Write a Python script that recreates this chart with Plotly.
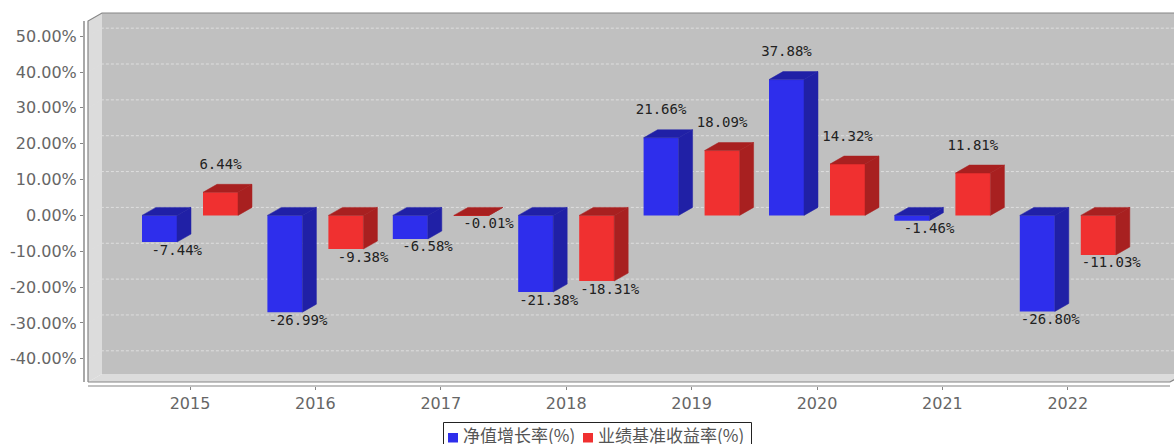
import plotly.graph_objects as go

years = ["2015", "2016", "2017", "2018", "2019", "2020", "2021", "2022"]
nav_growth = [-7.44, -26.99, -6.58, -21.38, 21.66, 37.88, -1.46, -26.80]
benchmark = [6.44, -9.38, -0.01, -18.31, 18.09, 14.32, 11.81, -11.03]
series_names = ["净值增长率(%)", "业绩基准收益率(%)"]
y_ticks = [50, 40, 30, 20, 10, 0, -10, -20, -30, -40]
y_tick_text = ["50.00%", "40.00%", "30.00%", "20.00%", "10.00%", "0.00%",
               "-10.00%", "-20.00%", "-30.00%", "-40.00%"]

W, H = 1174, 444
L, T, B = 84, 13, 386
PX_PER_CAT = 125.4
PX_PER_PCT = 3.585
X0_PX, Y0_PX = 190.0, 215.4
DX, DY = 14, 8
BAR_W, BAR_OFF = 35, 48

BLUE, BLUE_D = "#2e2eec", "#2020a6"
RED, RED_D = "#f03030", "#a82020"
WALL, SIDE, EDGE, GRID = "#c0c0c0", "#dcdcdc", "#858585", "#dedede"
TXT = "#666666"


def px(p):
    return (p - L) / (W - L)


def py(p):
    return 1 - (p - T) / (B - T)


def polygon(pts):
    return "M" + " L".join(f"{px(a):.5f},{py(b):.5f}" for a, b in pts) + " Z"


dxu, dyu = DX / PX_PER_CAT, DY / PX_PER_PCT
wu, offu = BAR_W / PX_PER_CAT, BAR_OFF / PX_PER_CAT
idx = list(range(len(years)))

fig = go.Figure()


def faces(values, start):
    """Side and top faces of each bar, in data units, from its value."""
    sx, sy, tx, ty = [], [], [], []
    for i, v in zip(idx, values):
        a, b = i + start, i + start + wu
        lo, hi = min(v, 0), max(v, 0)
        sx += [b, b + dxu, b + dxu, b, b, None]
        sy += [lo, lo + dyu, hi + dyu, hi, lo, None]
        tx += [a, a + dxu, b + dxu, b, a, None]
        ty += [hi, hi + dyu, hi + dyu, hi, hi, None]
    return sx, sy, tx, ty


for name, values, start, front, dark in [
    (series_names[0], nav_growth, -offu, BLUE, BLUE_D),
    (series_names[1], benchmark, offu - wu, RED, RED_D),
]:
    fig.add_bar(x=idx, y=values, base=0, width=wu, offset=start, name=name,
                marker=dict(color=front, line=dict(width=0)), showlegend=False)
    sx, sy, tx, ty = faces(values, start)
    for fx, fy in ((sx, sy), (tx, ty)):
        fig.add_scatter(x=fx, y=fy, mode="lines", fill="toself", fillcolor=dark,
                        line=dict(color=dark, width=0.5), showlegend=False,
                        hoverinfo="skip")
    centers = [i + start + wu / 2 for i in idx]
    lab_x, lab_y, lab_t, lab_p = [], [], [], []
    for c, v in zip(centers, values):
        lab_t.append(f"{v:.2f}%")
        if v >= 0:
            lab_x.append(c)
            lab_y.append(v + 27 / PX_PER_PCT)
            lab_p.append("middle center")
        else:
            lab_x.append(c + 42.5 / PX_PER_CAT)
            lab_y.append(v - 9 / PX_PER_PCT)
            lab_p.append("middle left")
    fig.add_scatter(x=lab_x, y=lab_y, text=lab_t, mode="text", textposition=lab_p,
                    textfont=dict(family="DejaVu Sans Mono", size=14, color="#222222"),
                    showlegend=False, hoverinfo="skip")

shapes = []
# back wall, left wall, floor
shapes.append(dict(type="path", path=polygon([(88 + DX, 13), (1184, 13), (1184, 374), (88 + DX, 374)]),
                   xref="paper", yref="paper", fillcolor=WALL, line=dict(width=0), layer="below"))
shapes.append(dict(type="path", path=polygon([(88, 21), (88 + DX, 13), (88 + DX, 374), (88, 382)]),
                   xref="paper", yref="paper", fillcolor=SIDE, line=dict(width=0), layer="below"))
shapes.append(dict(type="path", path=polygon([(88, 382), (88 + DX, 374), (1184, 374), (1170, 382)]),
                   xref="paper", yref="paper", fillcolor=SIDE, line=dict(width=0), layer="below"))
# gridlines running along the left wall and the back wall
for v in y_ticks:
    shapes.append(dict(type="path", xref="paper", yref="y", layer="below",
                       path=f"M{px(88):.5f},{v} L{px(88 + DX):.5f},{v + dyu:.4f} L{px(1184):.5f},{v + dyu:.4f}",
                       line=dict(color=GRID, width=1, dash="3px,2px")))
# wall outline
shapes.append(dict(type="path", xref="paper", yref="paper", layer="below",
                   path="M" + " L".join(f"{px(a):.5f},{py(b):.5f}" for a, b in
                                        [(88, 382), (88, 21), (88 + DX, 13), (1184, 13)]),
                   line=dict(color=EDGE, width=1.2)))
shapes.append(dict(type="path", xref="paper", yref="paper", layer="below",
                   path="M" + " L".join(f"{px(a):.5f},{py(b):.5f}" for a, b in
                                        [(88, 382), (1170, 382), (1184, 374)]),
                   line=dict(color=EDGE, width=1.2)))
# value axis line and category axis line
shapes.append(dict(type="line", xref="paper", yref="paper", x0=px(84), x1=px(84), y0=py(21), y1=py(382),
                   line=dict(color="#a8a8a8", width=2)))
shapes.append(dict(type="line", xref="paper", yref="paper", x0=px(88), x1=px(1170), y0=py(386), y1=py(386),
                   line=dict(color=EDGE, width=1)))
# legend box and swatches
shapes.append(dict(type="rect", xref="paper", yref="paper", x0=px(443.5), x1=px(751.5), y0=py(422.5), y1=py(450),
                   fillcolor="white", line=dict(color="#222222", width=1)))
shapes.append(dict(type="rect", xref="paper", yref="paper", x0=px(448), x1=px(458), y0=py(433), y1=py(442.5),
                   fillcolor=BLUE, line=dict(width=0)))
shapes.append(dict(type="rect", xref="paper", yref="paper", x0=px(583), x1=px(593), y0=py(433), y1=py(442.5),
                   fillcolor=RED, line=dict(width=0)))

annotations = [
    dict(text=series_names[0], x=px(461), y=py(434), xref="paper", yref="paper", xanchor="left",
         yanchor="middle", showarrow=False, font=dict(family="Noto Sans CJK SC", size=17, color="#555555")),
    dict(text=series_names[1], x=px(596), y=py(434), xref="paper", yref="paper", xanchor="left",
         yanchor="middle", showarrow=False, font=dict(family="Noto Sans CJK SC", size=17, color="#555555")),
]

fig.update_layout(
    width=W, height=H, autosize=False,
    margin=dict(l=L, r=0, t=T, b=H - B, pad=0),
    paper_bgcolor="white", plot_bgcolor="rgba(0,0,0,0)",
    barmode="overlay", showlegend=False, shapes=shapes, annotations=annotations,
    font=dict(family="DejaVu Sans", size=16, color=TXT),
    xaxis=dict(range=[(L - X0_PX) / PX_PER_CAT, (W - X0_PX) / PX_PER_CAT],
               tickmode="array", tickvals=idx, ticktext=years, showgrid=False, zeroline=False,
               showline=False, ticks="outside", ticklen=3, tickcolor=EDGE,
               tickfont=dict(family="DejaVu Sans", size=16, color=TXT)),
    yaxis=dict(range=[(Y0_PX - B) / PX_PER_PCT, (Y0_PX - T) / PX_PER_PCT],
               tickmode="array", tickvals=y_ticks, ticktext=y_tick_text, showgrid=False, zeroline=False,
               showline=False, ticks="outside", ticklen=3, tickcolor=EDGE,
               tickfont=dict(family="DejaVu Sans", size=16, color=TXT)),
)

fig.write_html("out.html", config={"displayModeBar": False},
               post_script="document.body.style.margin='0';document.body.style.overflow='hidden';")
